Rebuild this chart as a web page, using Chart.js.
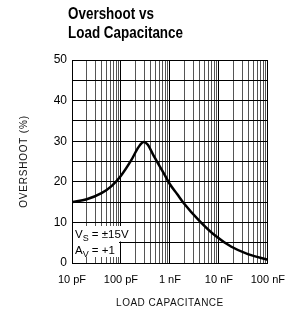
<!DOCTYPE html>
<html><head><meta charset="utf-8">
<script src="https://cdn.jsdelivr.net/npm/chart.js@4"></script>
<style>html,body{margin:0;padding:0;background:#fff}</style>
</head><body><canvas id="c" width="295" height="316"></canvas>
<script>
const titleLines = ['Overshoot vs', 'Load Capacitance'];
const capacitancePF = [10, 20, 40, 65, 100, 160, 230, 290, 350, 470, 750, 1000, 1400, 1900, 4000, 8500, 18000, 39000, 100000];
const overshootPct = [15, 15.7, 17.2, 19, 21.5, 25.2, 28.6, 29.8, 29.2, 26.3, 22.1, 19.4, 17, 14.8, 10.4, 6.7, 4, 2.2, 0.8];
const xTickValues = [10, 100, 1000, 10000, 100000];
const xTickLabels = ['10 pF', '100 pF', '1 nF', '10 nF', '100 nF'];
const yTickValues = [0, 10, 20, 30, 40, 50];
const xTitle = 'LOAD CAPACITANCE';
const yTitle = 'OVERSHOOT (%)';
const noteLines = [['V', 'S', ' = \u00b115V'], ['A', 'V', ' = +1']];

const FONT = '"Liberation Sans", Arial, sans-serif';

const overlay = {
  id: 'overlay',
  beforeDatasetsDraw(chart) {
    const ctx = chart.ctx, a = chart.chartArea;
    ctx.save();
    ctx.fillStyle = '#fff';
    ctx.fillRect(a.left + 1, a.bottom - 37, 58, 15.5);
    ctx.fillRect(a.left + 1, a.bottom - 22, 46, 16);
    ctx.fillStyle = '#000';
    const base = [a.bottom - 25, a.bottom - 9];
    noteLines.forEach((ln, i) => {
      let x = a.left + 3;
      ctx.font = '11.5px ' + FONT;
      ctx.fillText(ln[0], x, base[i]);
      x += ctx.measureText(ln[0]).width;
      ctx.font = '9px ' + FONT;
      ctx.fillText(ln[1], x, base[i] + 3);
      x += ctx.measureText(ln[1]).width;
      ctx.font = '11.5px ' + FONT;
      ctx.fillText(ln[2], x, base[i]);
    });
    ctx.restore();
  },
  afterDraw(chart) {
    const ctx = chart.ctx, a = chart.chartArea;
    ctx.save();
    ctx.fillStyle = '#000';
    ctx.font = 'bold 16px ' + FONT;
    ctx.textBaseline = 'alphabetic';
    ctx.translate(a.left - 4, 0);
    ctx.scale(0.84, 1);
    ctx.fillText(titleLines[0], 0, 19);
    ctx.fillText(titleLines[1], 0, 38);
    ctx.restore();
  }
};

const minorTicks = [];
xTickValues.forEach((d, i) => {
  if (i < xTickValues.length - 1) {
    for (let m = 1; m <= 9; m++) minorTicks.push(d * m);
  } else minorTicks.push(d);
});

const chart = new Chart(document.getElementById('c'), {
  type: 'line',
  data: {
    datasets: [{
      data: capacitancePF.map((x, i) => ({ x: x, y: overshootPct[i] })),
      borderColor: '#000',
      borderWidth: 2.5,
      pointRadius: 0,
      cubicInterpolationMode: 'monotone',
      fill: false
    }]
  },
  options: {
    responsive: false,
    animation: false,
    devicePixelRatio: 1,
    layout: { padding: { top: 60, right: 21, left: 0, bottom: 0 } },
    plugins: { legend: { display: false }, tooltip: { enabled: false } },
    scales: {
      x: {
        type: 'logarithmic',
        min: xTickValues[0],
        max: xTickValues[xTickValues.length - 1],
        afterBuildTicks(s) { s.ticks = minorTicks.map(v => ({ value: v })); },
        afterFit(s) { s.height = 53; },
        ticks: {
          autoSkip: false, maxRotation: 0, padding: 10, color: '#000',
          font: { family: FONT, size: 11 },
          callback(v) { const i = xTickValues.indexOf(v); return i >= 0 ? xTickLabels[i] : ''; }
        },
        grid: {
          drawTicks: false, lineWidth: 1,
          color(c) { return (c.tick && xTickValues.indexOf(c.tick.value) >= 0) ? '#000' : '#555'; }
        },
        border: { color: '#000', width: 1 },
        title: { display: true, text: xTitle, color: '#111', font: { family: FONT, size: 10 }, padding: { top: 0, bottom: 7 } }
      },
      y: {
        min: 0, max: 50,
        afterFit(s) { s.width = 72; },
        ticks: {
          stepSize: 5, padding: 5, color: '#000',
          font: { family: FONT, size: 12 },
          callback(v) { return yTickValues.indexOf(v) >= 0 ? String(v) : ''; }
        },
        grid: { drawTicks: false, color: '#000', lineWidth: 1 },
        border: { color: '#000', width: 1 },
        title: { display: true, text: yTitle, color: '#111', font: { family: FONT, size: 10 }, padding: { top: 18, bottom: 0 } }
      }
    }
  },
  plugins: [overlay]
});

[['x', '0.5px'], ['y', '0.8px']].forEach(([id, sp]) => {
  const s = chart.scales[id];
  const orig = s.drawTitle;
  s.drawTitle = function () {
    const ctx = this.ctx;
    ctx.save();
    ctx.letterSpacing = sp;
    orig.apply(this, arguments);
    ctx.restore();
  };
});
chart.draw();
</script></body></html>
